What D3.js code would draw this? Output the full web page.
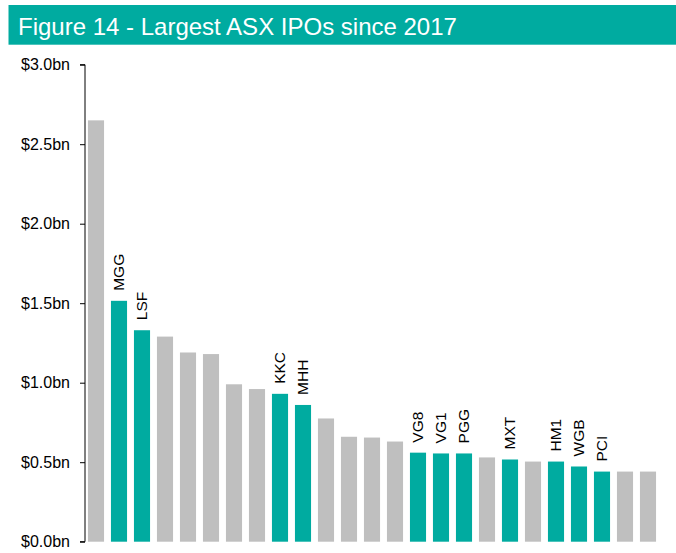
<!DOCTYPE html>
<html>
<head>
<meta charset="utf-8">
<script src="https://cdn.jsdelivr.net/npm/d3@7"></script>
<style>
  body { margin: 0; background: #fff; }
  svg { display: block; font-family: "Liberation Sans", Arial, sans-serif; }
</style>
</head>
<body>
<script>
// IPO values in $bn, largest first
var codes = ["", "MGG", "LSF", "", "", "", "", "", "KKC", "MHH", "", "", "", "",
  "VG8", "VG1", "PGG", "", "MXT", "", "HM1", "WGB", "PCI", "", ""];
var values = [2.65, 1.515, 1.33, 1.29, 1.19, 1.18, 0.99, 0.96, 0.93, 0.86, 0.775, 0.66, 0.655, 0.63,
  0.56, 0.555, 0.555, 0.53, 0.517, 0.504, 0.504, 0.473, 0.441, 0.441, 0.441];
var yTicks = [0, 0.5, 1.0, 1.5, 2.0, 2.5, 3.0];

var W = 676, H = 553;
var teal = "#00aba0", grey = "#bfbfbf";

var data = values.map(function(v, i) { return { i: i, code: codes[i], value: v }; });

var svg = d3.select("body").append("svg").attr("width", W).attr("height", H);

// header band
svg.append("rect")
  .attr("x", 8.5).attr("y", 5)
  .attr("width", W - 8.5).attr("height", 39.7)
  .attr("fill", teal);
svg.append("text")
  .attr("x", 18).attr("y", 34.5)
  .attr("fill", "#fff")
  .style("font-size", "24px")
  .text("Figure 14 - Largest ASX IPOs since 2017");

var x = d3.scaleBand()
  .domain(d3.range(values.length))
  .range([84.5, 84.5 + 23 * values.length])
  .paddingInner(0.3)
  .paddingOuter(0.15);

var y = d3.scaleLinear()
  .domain([0, 3])
  .range([541.7, 64.7]);

var yAxis = d3.axisLeft(y)
  .tickValues(yTicks)
  .tickSize(5)
  .tickPadding(10)
  .tickFormat(function(d) { return "$" + d3.format(".1f")(d) + "bn"; });

var axisG = svg.append("g")
  .attr("transform", "translate(85,0)")
  .call(yAxis);
axisG.select(".domain").attr("d", "M-5," + y(3) + "H0V" + y(0) + "H-5").attr("stroke", "#000");
axisG.selectAll(".tick line").attr("stroke", "#000");
axisG.selectAll(".tick text")
  .attr("fill", "#000")
  .style("font-size", "16px")
  .style("font-family", "'Liberation Sans', Arial, sans-serif");

svg.append("g").selectAll("rect")
  .data(data)
  .enter()
  .append("rect")
  .attr("x", function(d) { return x(d.i); })
  .attr("y", function(d) { return y(d.value); })
  .attr("width", x.bandwidth())
  .attr("height", function(d) { return y(0) - y(d.value); })
  .attr("fill", function(d) { return d.code ? teal : grey; });

svg.append("g").selectAll("text")
  .data(data.filter(function(d) { return d.code; }))
  .enter()
  .append("text")
  .attr("transform", function(d) {
    return "translate(" + (x(d.i) + x.bandwidth() / 2) + "," + (y(d.value) - 10) + ") rotate(-90)";
  })
  .attr("dy", "0.35em")
  .attr("text-anchor", "start")
  .attr("fill", "#000")
  .style("font-size", "15.5px")
  .text(function(d) { return d.code; });
</script>
</body>
</html>
